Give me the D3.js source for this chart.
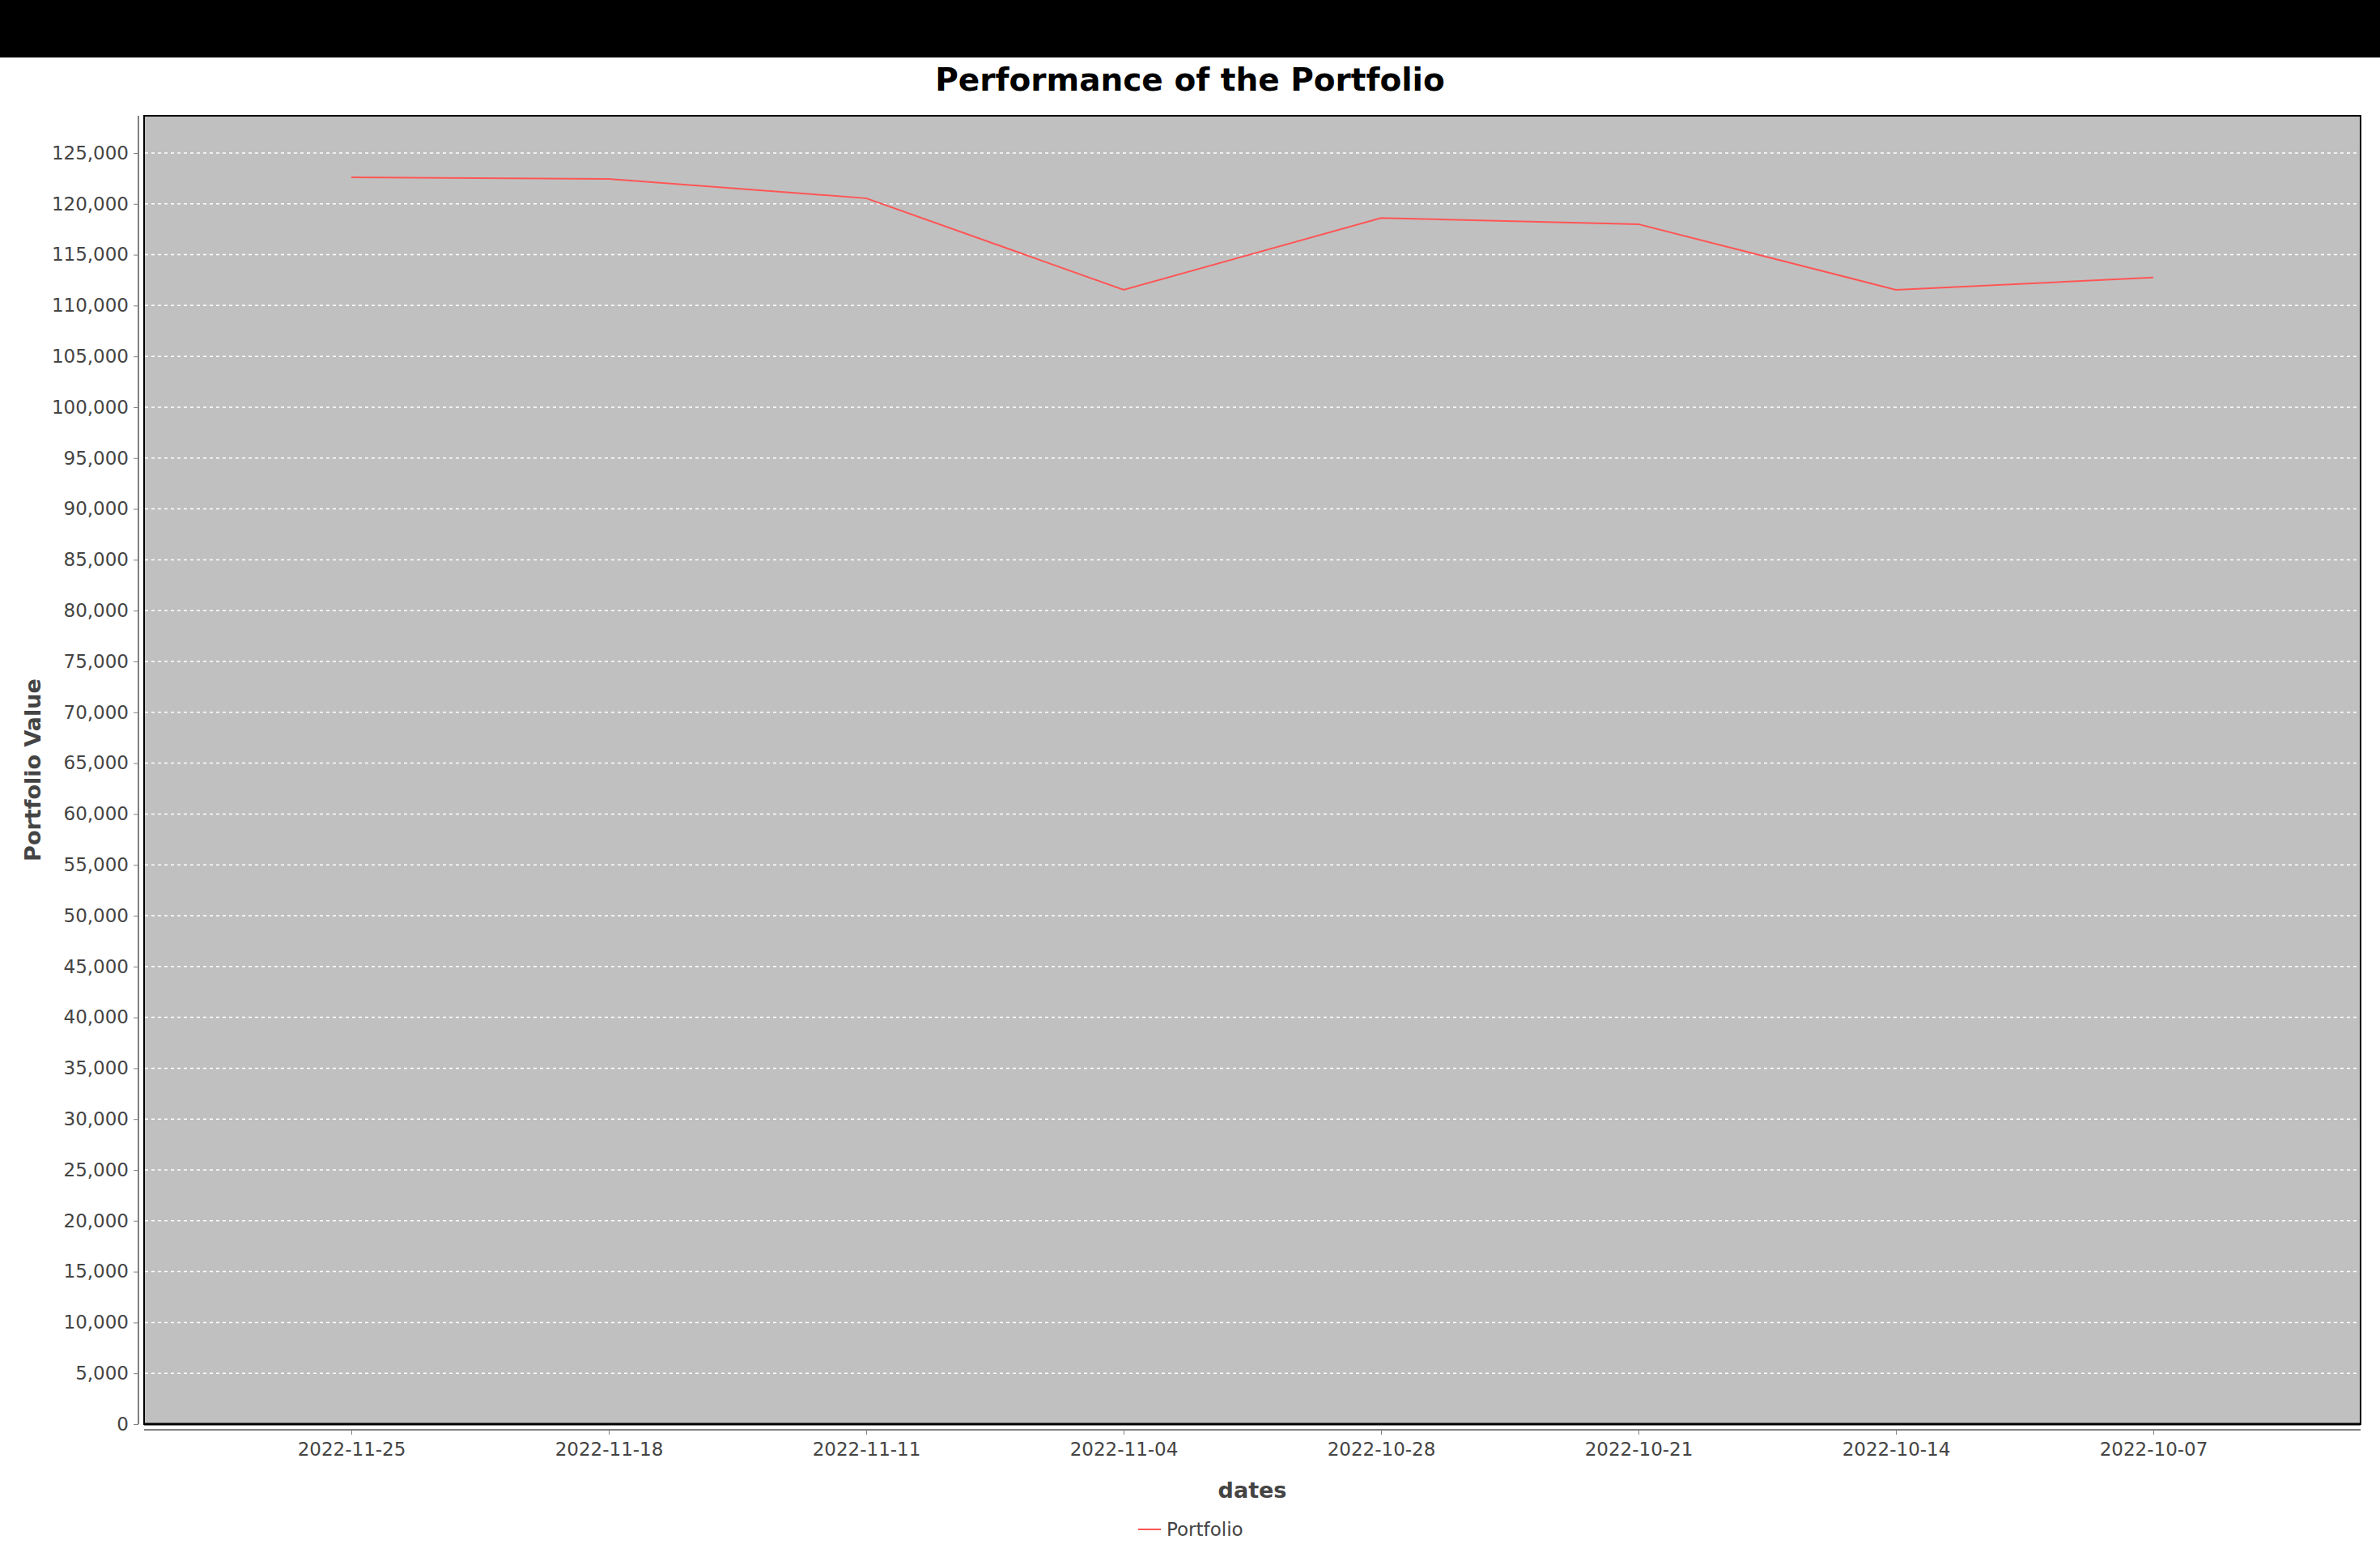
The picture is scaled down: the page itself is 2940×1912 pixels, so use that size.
<!DOCTYPE html>
<html>
<head>
<meta charset="utf-8">
<script src="https://cdn.jsdelivr.net/npm/d3@7"></script>
<style>
  body { margin: 0; background: #fff; }
  text { font-family: "DejaVu Sans", sans-serif; }
</style>
</head>
<body>
<div id="chart"></div>
<script>
// data
var dates = ["2022-11-25", "2022-11-18", "2022-11-11", "2022-11-04",
             "2022-10-28", "2022-10-21", "2022-10-14", "2022-10-07"];
var portfolio = [122600, 122450, 120550, 111550, 118600, 118000, 111550, 112750];
var yTicks = d3.range(0, 125001, 5000);

var drawChart = function() {
    const width = 2940, height = 1912;
    const left = 178, right = 2916, top = 143, bottom = 1759;
    var lineColor = "#ff5555";

    var svg = d3.select("#chart").append("svg")
        .attr("width", width).attr("height", height);

    // black strip across the top
    svg.append("rect").attr("x", 0).attr("y", 0)
        .attr("width", width).attr("height", 71).attr("fill", "#000");

    svg.append("text").attr("x", width / 2).attr("y", 112)
        .attr("text-anchor", "middle").attr("font-size", 39)
        .attr("font-weight", "bold").text("Performance of the Portfolio");

    var x = d3.scalePoint().domain(dates).range([left, right]).padding(0.805);
    var y = d3.scaleLinear().domain([0, 128660]).range([bottom, top]);

    // plot area
    svg.append("rect").attr("x", left).attr("y", top)
        .attr("width", right - left).attr("height", bottom - top)
        .attr("fill", "#c0c0c0").attr("stroke", "#000").attr("stroke-width", 2);

    // gridlines
    svg.append("g").selectAll("line").data(yTicks.slice(1)).join("line")
        .attr("x1", left + 1).attr("x2", right - 1)
        .attr("y1", d => y(d)).attr("y2", d => y(d))
        .attr("stroke", "#fff").attr("stroke-width", 1.5)
        .attr("stroke-dasharray", "4,4");

    svg.append("line").attr("x1", left).attr("x2", right)
        .attr("y1", bottom).attr("y2", bottom)
        .attr("stroke", "#000").attr("stroke-width", 3);

    // y axis
    var yAxis = svg.append("g").attr("transform", "translate(171,0)")
        .call(d3.axisLeft(y).tickValues(yTicks).tickSize(6).tickPadding(6)
            .tickFormat(d3.format(",")));
    yAxis.select(".domain").attr("stroke", "#808080").attr("stroke-width", 2)
        .attr("d", `M0,${top}V${bottom}`);
    yAxis.selectAll(".tick line").attr("stroke", "#808080");
    yAxis.selectAll(".tick text").attr("font-size", 23).attr("fill", "#444")
        .attr("font-family", "DejaVu Sans");

    // x axis
    var xAxis = svg.append("g").attr("transform", "translate(0,1766)")
        .call(d3.axisBottom(x).tickSize(6).tickPadding(10));
    xAxis.select(".domain").attr("stroke", "#808080").attr("stroke-width", 2)
        .attr("d", `M${left},0H${right}`);
    xAxis.selectAll(".tick line").attr("stroke", "#808080");
    xAxis.selectAll(".tick text").attr("font-size", 23).attr("fill", "#444")
        .attr("font-family", "DejaVu Sans");

    // axis titles
    svg.append("text").attr("x", (left + right) / 2).attr("y", 1850)
        .attr("text-anchor", "middle").attr("font-size", 27)
        .attr("font-weight", "bold").attr("fill", "#444").text("dates");
    svg.append("text")
        .attr("transform", `translate(50,${(top + bottom) / 2}) rotate(-90)`)
        .attr("text-anchor", "middle").attr("font-size", 27)
        .attr("font-weight", "bold").attr("fill", "#444").text("Portfolio Value");

    // series
    var line = d3.line().x((d, i) => x(dates[i])).y(d => y(d));
    svg.append("path").datum(portfolio).attr("d", line)
        .attr("fill", "none").attr("stroke", lineColor).attr("stroke-width", 2);

    // legend
    svg.append("line").attr("x1", 1406).attr("x2", 1434)
        .attr("y1", 1889).attr("y2", 1889)
        .attr("stroke", lineColor).attr("stroke-width", 2);
    svg.append("text").attr("x", 1441).attr("y", 1897)
        .attr("font-size", 23).attr("fill", "#444").text("Portfolio");
};

window.addEventListener("load", drawChart);
</script>
</body>
</html>
